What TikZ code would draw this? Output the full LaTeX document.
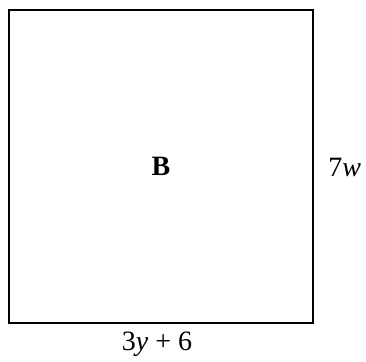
\documentclass[tikz,border=0pt]{standalone}
\usepackage{fontspec}
\setmainfont{Liberation Serif}
\usetikzlibrary{positioning}
\begin{document}
\begin{tikzpicture}[x=0.5pt, y=-0.5pt,
    side/.style={font=\fontsize{14}{16}\selectfont, inner sep=0pt}
  ]
  \useasboundingbox (0,0) rectangle (366,362);
  \node[draw, line width=1pt, minimum width=152pt, minimum height=156.5pt,
    font=\fontsize{14}{16}\selectfont\bfseries] (sq) at (161,166.5) {B};
  \node[side, right=7pt of sq.east, yshift=-0.7pt] (h) {7\textit{w}};
  \node[side, below=4pt of sq.south, xshift=-2pt] (b) {3\textit{y} + 6};
\end{tikzpicture}
\end{document}
